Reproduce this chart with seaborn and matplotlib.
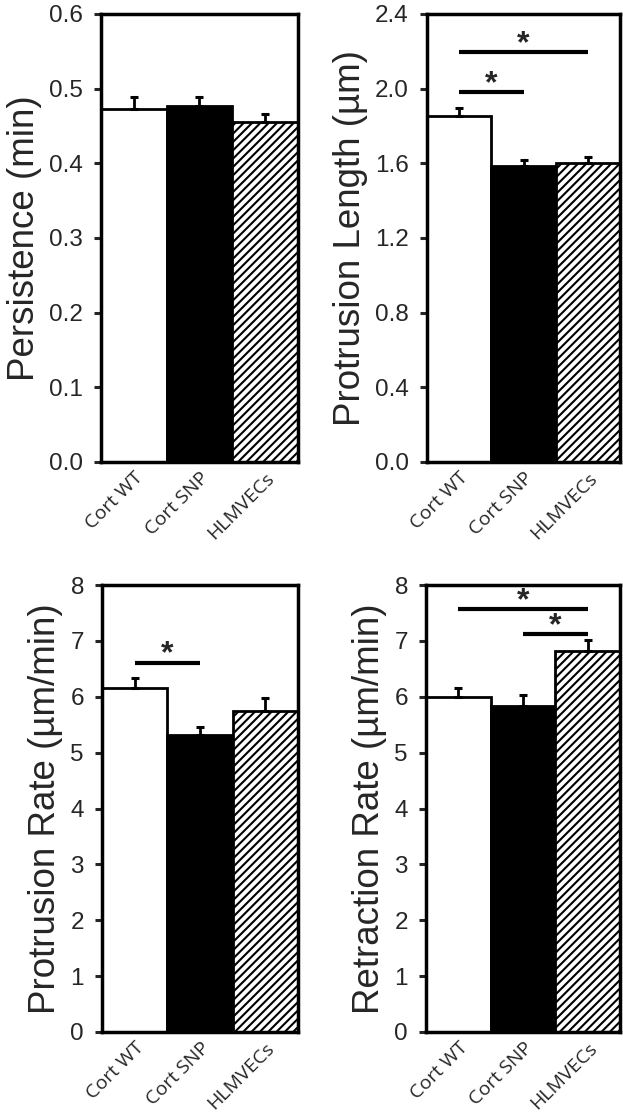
import matplotlib
matplotlib.use("Agg")
import matplotlib.pyplot as plt
import seaborn as sns
import numpy as np
import pandas as pd

categories = ["Cort WT", "Cort SNP", "HLMVECs"]

persistence = [0.473, 0.477, 0.456]
persistence_err = [0.016, 0.012, 0.010]

prot_length = [1.854, 1.587, 1.600]
prot_length_err = [0.045, 0.031, 0.036]

prot_rate = [6.16, 5.32, 5.75]
prot_rate_err = [0.17, 0.14, 0.23]

retr_rate = [5.99, 5.84, 6.82]
retr_rate_err = [0.17, 0.20, 0.20]

panels = [
    dict(vals=persistence, err=persistence_err, ylabel="Persistence (min)",
         ylim=(0, 0.6), ticks=[0.0, 0.1, 0.2, 0.3, 0.4, 0.5, 0.6], fmt="{:.1f}",
         sig=[]),
    dict(vals=prot_length, err=prot_length_err, ylabel="Protrusion Length (\u00b5m)",
         ylim=(0, 2.4), ticks=[0.0, 0.4, 0.8, 1.2, 1.6, 2.0, 2.4], fmt="{:.1f}",
         sig=[(0, 1, 1.98), (0, 2, 2.197)]),
    dict(vals=prot_rate, err=prot_rate_err, ylabel="Protrusion Rate (\u00b5m/min)",
         ylim=(0, 8), ticks=[0, 1, 2, 3, 4, 5, 6, 7, 8], fmt="{:.0f}",
         sig=[(0, 1, 6.61)]),
    dict(vals=retr_rate, err=retr_rate_err, ylabel="Retraction Rate (\u00b5m/min)",
         ylim=(0, 8), ticks=[0, 1, 2, 3, 4, 5, 6, 7, 8], fmt="{:.0f}",
         sig=[(0, 2, 7.57), (1, 2, 7.125)]),
]

sns.set_theme(style="white")
plt.rcParams["font.family"] = ["Liberation Sans", "DejaVu Sans"]
plt.rcParams["hatch.linewidth"] = 1.5

fig = plt.figure(figsize=(6.23, 11.17), dpi=100)
W, H = 623, 1117
boxes = [
    (101, 14, 298, 462),
    (427, 14, 620, 462),
    (102, 585, 298, 1032),
    (426, 585, 620, 1032),
]

for p, (x0, y0, x1, y1) in zip(panels, boxes):
    ax = fig.add_axes([x0 / W, 1 - y1 / H, (x1 - x0) / W, (y1 - y0) / H])
    df = pd.DataFrame({"cat": categories, "val": p["vals"]})
    sns.barplot(data=df, x="cat", y="val", hue="cat", ax=ax,
                palette=["white", "black", "white"], width=1.0,
                edgecolor="black", linewidth=2.0, legend=False, saturation=1)
    ax.patches[2].set_hatch("////")
    ax.patches[2].set_edgecolor("black")
    ax.errorbar(range(3), p["vals"],
                yerr=[np.zeros(3), p["err"]], fmt="none",
                ecolor="black", elinewidth=2.0, capsize=2.6, capthick=2.2)
    ax.set_xlim(-0.5, 2.5)
    ax.set_ylim(*p["ylim"])
    ax.set_yticks(p["ticks"])
    ax.set_yticklabels([p["fmt"].format(t) for t in p["ticks"]], fontsize=17.5)
    ax.set_xticks(range(3))
    ax.set_xticklabels(categories, rotation=45, ha="right", rotation_mode="anchor",
                       fontsize=14, family=["Open Sans", "DejaVu Sans"])
    ax.tick_params(axis="y", direction="out", length=5, width=2.2, pad=8, left=True)
    ax.tick_params(axis="x", length=0, pad=5)
    ax.set_xlabel("")
    ax.set_ylabel(p["ylabel"], fontsize=26.5, labelpad=5)
    for s in ax.spines.values():
        s.set_visible(True)
        s.set_linewidth(2.5)
        s.set_color("black")
    for (a, b, y) in p["sig"]:
        ax.plot([a, b], [y, y], color="black", lw=3, solid_capstyle="butt", clip_on=False)
        ax.text((a + b) / 2, y, "*", ha="center", va="baseline",
                fontsize=23, fontweight="bold")

fig.savefig("out.png", dpi=100)
